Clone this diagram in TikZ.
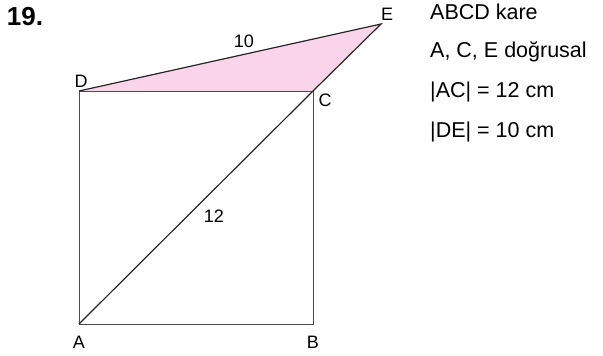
\documentclass[tikz,border=0pt]{standalone}
\usepackage{fontspec}
\setmainfont{Liberation Sans}
\begin{document}
\begin{tikzpicture}[x=1pt,y=-1pt,
  pt/.style={inner sep=0pt,font=\fontsize{18}{18}\selectfont},
  info/.style={inner sep=0pt,anchor=west,font=\fontsize{21.5}{22}\selectfont},
  edge/.style={draw=black!70,line width=0.9pt},
  dark/.style={draw=black!85,line width=1.2pt}]
\useasboundingbox (0,0) rectangle (603,356);
\coordinate (A) at (79,324);
\coordinate (B) at (313,324);
\coordinate (C) at (313,91);
\coordinate (D) at (79,91);
\coordinate (E) at (381,24);
\fill[fill={rgb,255:red,250;green,212;blue,234}] (D) -- (E) -- (C) -- cycle;
\draw[edge] (A) -- (B) -- (C) -- (D) -- cycle;
\draw[dark] (A) -- (C) -- (E) -- (D);
\node[inner sep=0pt,font=\bfseries\fontsize{26}{26}\selectfont] (n19) at (25,17) {19.};
\node[pt] (lA) at (79,342) {A};
\node[pt] (lB) at (313,342) {B};
\node[pt] (lC) at (325,100) {C};
\node[pt] (lD) at (81,81) {D};
\node[pt] (lE) at (387,14) {E};
\node[pt] (l10) at (244,41) {10};
\node[pt] (l12) at (214,216) {12};
\node[info] (t1) at (430,12) {ABCD kare};
\node[info] (t2) at (430,52) {A, C, E doğrusal};
\node[info] (t3) at (430,92) {|AC| = 12 cm};
\node[info] (t4) at (430,132) {|DE| = 10 cm};
\end{tikzpicture}
\end{document}
